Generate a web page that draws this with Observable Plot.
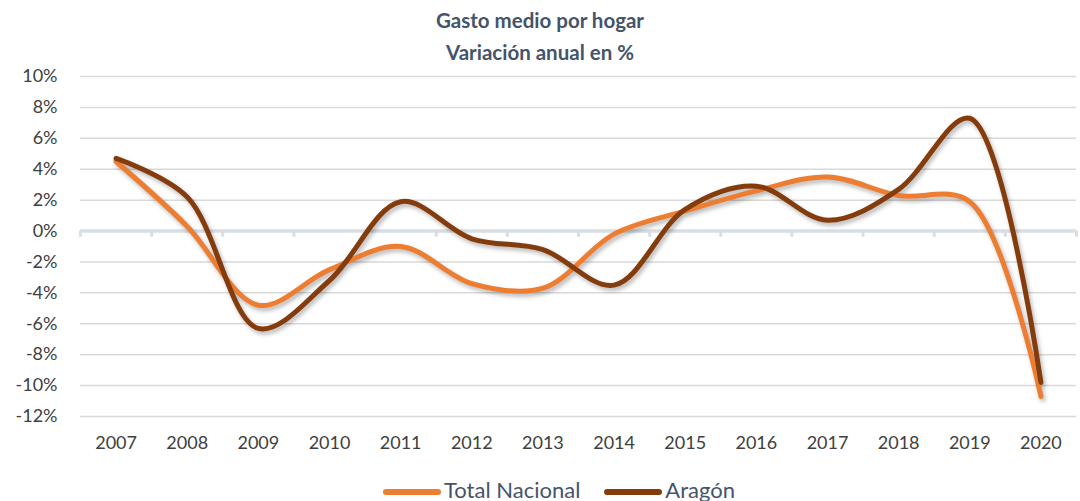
<!DOCTYPE html>
<html>
<head>
<meta charset="utf-8">
<script src="https://cdn.jsdelivr.net/npm/d3@7"></script>
<script src="https://cdn.jsdelivr.net/npm/@observablehq/plot@0.6"></script>
<style>
  body { margin: 0; background: #fff; width: 1080px; height: 501px; overflow: hidden; font-family: Lato, "Open Sans", sans-serif; }
  #title { height: 68px; text-align: center; color: #44546A; font-weight: bold; font-size: 20.5px; line-height: 32px; padding-top: 4px; box-sizing: border-box; }
  #chart svg { display: block; overflow: visible; }
  #chart g[aria-label="line"] { filter: drop-shadow(2px 3px 2px rgba(0,0,0,0.28)); }
  #legend { text-align: center; height: 31px; font-size: 22px; color: #44546A; line-height: 24px; padding-top: 8px; padding-left: 38px; box-sizing: border-box; white-space: nowrap; }
  .item { display: inline-block; margin: 0 12px; }
  .sw { display: inline-block; width: 58px; height: 6px; border-radius: 3px; vertical-align: middle; margin-right: 3px; }
</style>
</head>
<body>
<div id="title">Gasto medio por hogar<br>Variación anual en %</div>
<div id="chart"></div>
<div id="legend"></div>
<script>
const years = [2007, 2008, 2009, 2010, 2011, 2012, 2013, 2014, 2015, 2016, 2017, 2018, 2019, 2020];
const totalNacional = [4.5, 0.3, -4.8, -2.5, -1.0, -3.4, -3.7, -0.2, 1.3, 2.6, 3.5, 2.3, 1.9, -10.7];
const aragon = [4.7, 2.2, -6.3, -3.2, 1.9, -0.5, -1.2, -3.5, 1.4, 2.9, 0.7, 2.7, 7.3, -9.8];
const yTicks = [-12, -10, -8, -6, -4, -2, 0, 2, 4, 6, 8, 10];
const seriesNames = ["Total Nacional", "Aragón"];
const seriesColors = ["#ED7D31", "#843C0C"];

const data = [];
years.forEach((yr, i) => {
  data.push({year: yr, value: totalNacional[i], serie: seriesNames[0]});
  data.push({year: yr, value: aragon[i], serie: seriesNames[1]});
});
const boundaries = years.map(y => y - 0.5).concat([years[years.length - 1] + 0.5]);

const plot = Plot.plot({
  width: 1080,
  height: 402,
  marginTop: 8,
  marginBottom: 54,
  marginLeft: 80,
  marginRight: 4,
  style: {fontFamily: "Lato, 'Open Sans', sans-serif", fontSize: "18px", color: "#404040", background: "#fff", overflow: "visible"},
  x: {domain: [years[0] - 0.5, years[years.length - 1] + 0.5]},
  y: {domain: [-12, 10]},
  color: {domain: seriesNames, range: seriesColors},
  marks: [
    Plot.ruleY(yTicks.filter(d => d !== 0), {stroke: "#D9D9D9", strokeWidth: 1.5}),
    Plot.ruleX(boundaries, {y1: 0, y2: -0.4, stroke: "#D9DEE4", strokeWidth: 3}),
    Plot.ruleY([0], {stroke: "#D9DEE4", strokeWidth: 3.5}),
    Plot.axisY({ticks: yTicks, tickFormat: d => d + "%", tickSize: 0, tickPadding: 23, fontSize: 18, fill: "#404040", label: null}),
    Plot.axisX({ticks: years, tickFormat: d => String(d), tickSize: 0, tickPadding: 20, fontSize: 18, fill: "#404040", label: null}),
    Plot.line(data, {x: "year", y: "value", z: "serie", stroke: "serie", strokeWidth: 5, curve: "catmull-rom", strokeLinecap: "round", strokeLinejoin: "round"})
  ]
});
document.getElementById("chart").appendChild(plot);

const legend = document.getElementById("legend");
seriesNames.forEach((n, i) => {
  const s = document.createElement("span");
  s.className = "item";
  s.innerHTML = `<span class="sw" style="background:${seriesColors[i]}"></span>${n}`;
  legend.appendChild(s);
});
</script>
</body>
</html>
